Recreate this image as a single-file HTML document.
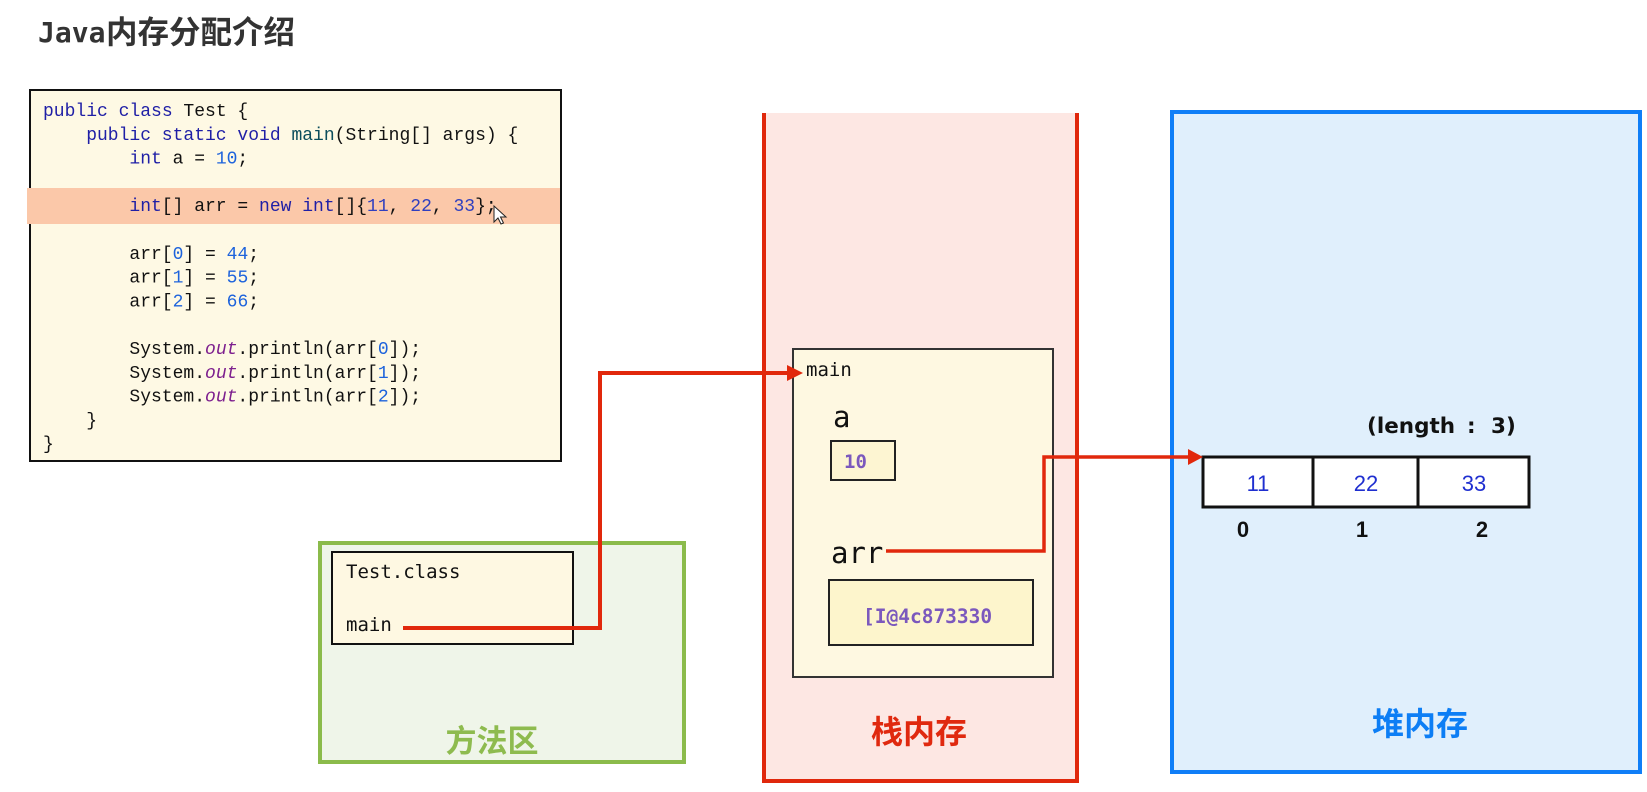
<!DOCTYPE html>
<html>
<head>
<meta charset="utf-8">
<style>
  html, body { margin: 0; padding: 0; background: #ffffff; }
  body { width: 1647px; height: 792px; overflow: hidden; }
  svg { display: block; }
  .code { font-family: "Liberation Mono", "DejaVu Sans Mono", monospace; font-size: 18px; fill: #111; white-space: pre; }
  .kw { fill: #1f1fa6; }
  .num { fill: #1d63dc; }
  .mth { fill: #0b4d5c; }
  .out { fill: #7d1f8e; font-style: italic; }
  .mono { font-family: "DejaVu Sans Mono", "Liberation Mono", monospace; }
  .cjk { font-family: "Liberation Sans", "Noto Sans CJK SC", sans-serif; font-weight: bold; }
</style>
</head>
<body>
<svg width="1647" height="792" viewBox="0 0 1647 792" xmlns="http://www.w3.org/2000/svg">
  <!-- Title -->
  <text x="38" y="42" class="mono" font-weight="bold" font-size="28" fill="#333">Java</text>
  <text x="106" y="43" class="cjk" font-size="31.5" fill="#333">内存分配介绍</text>

  <!-- Code box -->
  <rect x="30" y="90" width="531" height="371" fill="#fef9e4" stroke="#111" stroke-width="2"/>
  <rect x="27" y="188" width="533" height="36" fill="#fbc8a9"/>

  <g class="code">
    <text x="43" y="116"><tspan class="kw">public class</tspan> Test {</text>
    <text x="86.2" y="139.8"><tspan class="kw">public static void</tspan> <tspan class="mth">main</tspan>(String[] args) {</text>
    <text x="129.4" y="163.6"><tspan class="kw">int</tspan> a = <tspan class="num">10</tspan>;</text>
    <text x="129.4" y="211.2"><tspan class="kw">int</tspan>[] arr = <tspan class="kw">new</tspan> <tspan class="kw">int</tspan>[]{<tspan class="num" style="fill:#2f3fbf">11</tspan>, <tspan class="num" style="fill:#2f3fbf">22</tspan>, <tspan class="num" style="fill:#2f3fbf">33</tspan>};</text>
    <text x="129.4" y="258.8">arr[<tspan class="num">0</tspan>] = <tspan class="num">44</tspan>;</text>
    <text x="129.4" y="282.6">arr[<tspan class="num">1</tspan>] = <tspan class="num">55</tspan>;</text>
    <text x="129.4" y="306.4">arr[<tspan class="num">2</tspan>] = <tspan class="num">66</tspan>;</text>
    <text x="129.4" y="354">System.<tspan class="out">out</tspan>.println(arr[<tspan class="num">0</tspan>]);</text>
    <text x="129.4" y="377.8">System.<tspan class="out">out</tspan>.println(arr[<tspan class="num">1</tspan>]);</text>
    <text x="129.4" y="401.6">System.<tspan class="out">out</tspan>.println(arr[<tspan class="num">2</tspan>]);</text>
    <text x="86.2" y="425.4">}</text>
    <text x="43" y="449.2">}</text>
  </g>

  <!-- mouse cursor -->
  <path d="M494,206 L494,222 L498,218 L501,224 L503.5,223 L500.5,217 L506,217 Z" fill="#fff" stroke="#222" stroke-width="1"/>

  <!-- Method area (green) -->
  <rect x="320" y="543" width="364" height="219" fill="#eff5e9" stroke="#8bbb4b" stroke-width="4"/>
  <rect x="332" y="552" width="241" height="92" fill="#fef8e2" stroke="#111" stroke-width="2"/>
  <text x="346" y="578" class="mono" font-size="19" fill="#111">Test.class</text>
  <text x="346" y="631" class="mono" font-size="19" fill="#111">main</text>
  <text x="492" y="752" class="cjk" font-size="31" fill="#8ebb4f" text-anchor="middle">方法区</text>

  <!-- Stack (red) -->
  <rect x="764" y="113" width="313" height="668" fill="#fde7e3"/>
  <path d="M764,113 V781 H1077 V113" fill="none" stroke="#e0280c" stroke-width="4"/>
  <rect x="793" y="349" width="260" height="328" fill="#fef8e1" stroke="#333" stroke-width="2"/>
  <text x="806" y="376" class="mono" font-size="19" fill="#111">main</text>
  <text x="833" y="427" class="mono" font-size="29" fill="#111">a</text>
  <rect x="831" y="441" width="64" height="39" fill="#fdf5d2" stroke="#222" stroke-width="2"/>
  <text x="844" y="468" class="mono" font-weight="bold" font-size="19" fill="#7b58bd">10</text>
  <text x="831" y="563" class="mono" font-size="29" fill="#111">arr</text>
  <rect x="829" y="580" width="204" height="65" fill="#fdf5cc" stroke="#222" stroke-width="2"/>
  <text x="863" y="623" class="mono" font-weight="bold" font-size="19.5" fill="#7b58bd">[I@4c873330</text>
  <text x="919" y="743" class="cjk" font-size="32" fill="#e0290f" text-anchor="middle">栈内存</text>

  <!-- Heap (blue) -->
  <rect x="1172" y="112" width="468" height="660" fill="#e0effc" stroke="#0f7ef7" stroke-width="4"/>
  <text x="1367" y="433" font-family="DejaVu Sans, Liberation Sans, sans-serif" font-weight="bold" font-size="21.5" fill="#111">(length</text>
  <text x="1467" y="433" font-family="DejaVu Sans, Liberation Sans, sans-serif" font-weight="bold" font-size="21.5" fill="#111">:</text>
  <text x="1491" y="433" font-family="DejaVu Sans, Liberation Sans, sans-serif" font-weight="bold" font-size="21.5" fill="#111">3)</text>

  <rect x="1203" y="457" width="326" height="50" fill="#ffffff" stroke="#111" stroke-width="3"/>
  <line x1="1313" y1="457" x2="1313" y2="507" stroke="#111" stroke-width="3"/>
  <line x1="1418" y1="457" x2="1418" y2="507" stroke="#111" stroke-width="3"/>
  <g font-family="Liberation Sans, sans-serif" font-size="22" fill="#1f2fd0" text-anchor="middle">
    <text x="1258" y="491">11</text>
    <text x="1366" y="491">22</text>
    <text x="1474" y="491">33</text>
  </g>
  <g font-family="Liberation Sans, sans-serif" font-weight="bold" font-size="22" fill="#111" text-anchor="middle">
    <text x="1243" y="537">0</text>
    <text x="1362" y="537">1</text>
    <text x="1482" y="537">2</text>
  </g>
  <text x="1420" y="735" class="cjk" font-size="32" fill="#0d7ef5" text-anchor="middle">堆内存</text>

  <!-- Connectors -->
  <path d="M403,628 H600 V373 H790" fill="none" stroke="#e1280c" stroke-width="4"/>
  <polygon points="787,365 803,373 787,381" fill="#e1280c"/>
  <path d="M886,551 H1044 V457 H1190" fill="none" stroke="#e1280c" stroke-width="3.5"/>
  <polygon points="1188,449 1203,457 1188,465" fill="#e1280c"/>
</svg>
</body>
</html>
